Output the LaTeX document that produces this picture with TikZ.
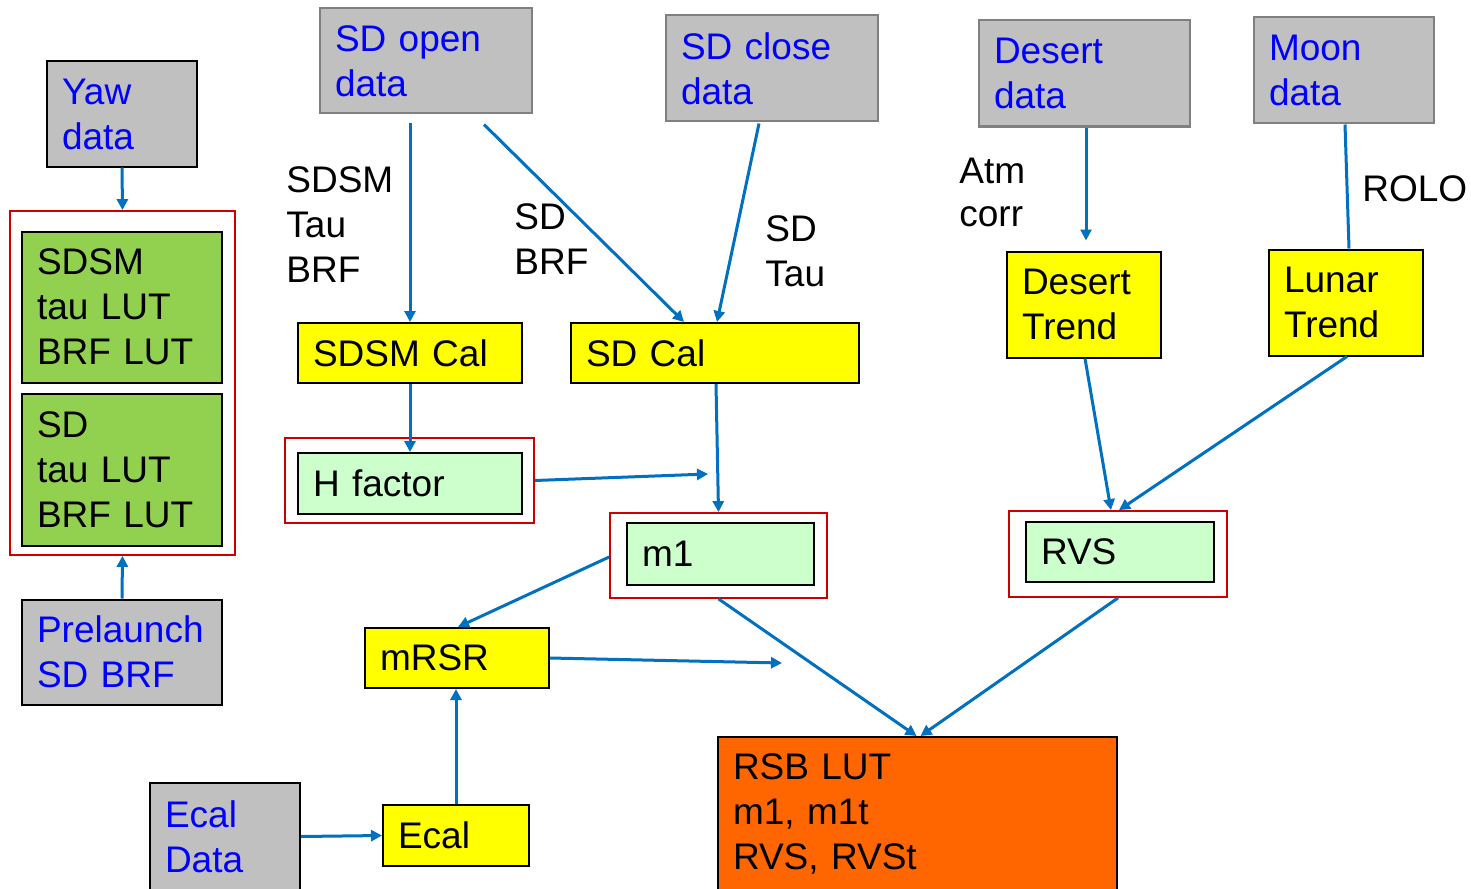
\documentclass[tikz,border=0pt]{standalone}
\usepackage{fontspec}
\setmainfont{Liberation Sans}
\usetikzlibrary{arrows.meta,calc}
\definecolor{boxgray}{HTML}{C0C0C0}
\definecolor{edgegray}{HTML}{808080}
\definecolor{txtblue}{HTML}{0000FF}
\definecolor{arrblue}{HTML}{0070C0}
\definecolor{redline}{HTML}{CC0000}
\definecolor{ylw}{HTML}{FFFF00}
\definecolor{lgreen}{HTML}{CCFFCC}
\definecolor{dgreen}{HTML}{92D050}
\definecolor{orng}{HTML}{FF6600}
\begin{document}
\begin{tikzpicture}[x=0.5pt,y=-0.5pt,
  font=\fontsize{18.5}{22.5}\selectfont,
  base/.style={rectangle,align=left,inner xsep=7.5pt,inner ysep=0pt,line width=1pt},
  databox/.style={base,fill=boxgray,draw=black,text=txtblue},
  databoxg/.style={base,fill=boxgray,draw=edgegray,text=txtblue},
  calbox/.style={base,fill=ylw,draw=black},
  resbox/.style={base,fill=lgreen,draw=black},
  lutbox/.style={base,fill=dgreen,draw=black},
  redframe/.style={rectangle,draw=redline,line width=0.9pt,inner sep=0pt},
  lbl/.style={anchor=west,align=left,inner sep=0pt},
  arr/.style={draw=arrblue,line width=1.5pt,-{Triangle[length=5.5pt,width=5.5pt]}},
  ln/.style={draw=arrblue,line width=1.5pt}]
\useasboundingbox (0,0) rectangle (1471,888);
% data boxes
\node[databox,minimum width=75pt,minimum height=52.5pt,text width=60pt] (yaw) at (122,114) {Yaw\\data};
\node[databox,minimum width=100pt,minimum height=52.5pt,text width=85pt] (pre) at (122,652) {Prelaunch\\SD BRF};
\node[databoxg,minimum width=106pt,minimum height=52.5pt,text width=91pt] (sdo) at (426,61) {SD open\\data};
\node[databoxg,minimum width=106pt,minimum height=53pt,text width=91pt] (sdc) at (772,68.5) {SD close\\data};
\node[databoxg,minimum width=105.5pt,minimum height=53pt,text width=90.5pt] (des) at (1084.5,73.5) {Desert\\data};
\node[databoxg,minimum width=90pt,minimum height=53pt,text width=75pt] (moon) at (1344,70.5) {Moon\\data};
\node[databox,minimum width=75pt,minimum height=54pt,text width=60pt] (ecald) at (225,836.5) {Ecal\\Data};
% LUT group
\node[redframe,minimum width=112.5pt,minimum height=172pt] (red1) at (122.5,383) {};
\node[lutbox,minimum width=100pt,minimum height=75.5pt,text width=85pt] (g1) at (122,307) {SDSM\\tau LUT\\BRF LUT};
\node[lutbox,minimum width=100pt,minimum height=76pt,text width=85pt] (g2) at (122,469.5) {SD\\tau LUT\\BRF LUT};
% cal boxes
\node[calbox,minimum width=112pt,minimum height=30pt,text width=97pt] (sdsmcal) at (410,353) {SDSM Cal};
\node[calbox,minimum width=144pt,minimum height=30pt,text width=129pt] (sdcal) at (715,353) {SD Cal};
\node[calbox,minimum width=77pt,minimum height=53pt,text width=62pt] (dtr) at (1084,304.5) {Desert\\Trend};
\node[calbox,minimum width=77pt,minimum height=53pt,text width=62pt] (ltr) at (1346,302.5) {Lunar\\Trend};
\node[calbox,minimum width=92pt,minimum height=30pt,text width=77pt] (mrsr) at (457,658) {mRSR};
\node[calbox,minimum width=73pt,minimum height=30.5pt,text width=58pt] (ecal) at (456,835.5) {Ecal};
% result boxes
\node[redframe,minimum width=124.5pt,minimum height=42.5pt] (hred) at (409.5,480.5) {};
\node[resbox,minimum width=112pt,minimum height=30.5pt,text width=97pt] (hf) at (410,483.5) {H factor};
\node[redframe,minimum width=108.5pt,minimum height=42.5pt] (m1red) at (718.5,555.5) {};
\node[resbox,minimum width=93.5pt,minimum height=31pt,text width=78.5pt] (m1) at (720.5,554) {m1};
\node[redframe,minimum width=109pt,minimum height=43pt] (rvsred) at (1118,554) {};
\node[resbox,minimum width=94pt,minimum height=30pt,text width=79pt] (rvs) at (1120,552) {RVS};
\node[base,fill=orng,draw=black,minimum width=199.5pt,minimum height=76.5pt,text width=184.5pt] (rsb) at (917.5,813.5) {RSB LUT\\m1, m1t\\RVS, RVSt};
% labels
\node[lbl] (l1) at (286,224.5) {SDSM\\Tau\\BRF};
\node[lbl] (l2) at (514,239.5) {SD\\BRF};
\node[lbl] (l3) at (765,251.5) {SD\\Tau};
\node[lbl,font=\fontsize{18.5}{21.5}\selectfont] (l4) at (959,192) {Atm\\corr};
\node[lbl] (l5) at (1362,188.5) {ROLO};
% free ends
\coordinate (hfend) at (708,474);
\coordinate (mend) at (782,663);
% connectors
\draw[arr] (yaw.south) -- (red1.north);
\draw[arr] (pre.north) -- (red1.south);
\draw[arr] ($(sdo.south)+(-16,9)$) -- (sdsmcal.north);
\draw[arr] ($(sdo.south)+(58,10)$) -- ($(sdcal.north)+(-31,0)$);
\draw[arr] ($(sdc.south)+(-13,1)$) -- ($(sdcal.north)+(2,0)$);
\draw[arr] ($(des.south)+(1.5,0)$) -- ($(dtr.north)+(2,-10)$);
\draw[ln] ($(moon.south)+(1,0)$) -- ($(ltr.north)+(3,0)$);
\draw[arr] (sdsmcal.south) -- (hf.north);
\draw[arr] (hred.east) -- (hfend);
\draw[arr] ($(sdcal.south)+(1,0)$) -- (m1red.north);
\draw[arr] ($(m1red.west)+(0,1.5)$) -- ($(mrsr.north)+(1,0)$);
\draw[arr] (mrsr.east) -- (mend);
\draw[arr] (m1red.south) -- ($(rsb.north)+(-1,0)$);
\draw[arr] (rvsred.south) -- ($(rsb.north)+(3,0)$);
\draw[arr] ($(dtr.south)+(1,0)$) -- ($(rvsred.north)+(-7,0)$);
\draw[arr] ($(ltr.south)+(1,0)$) -- ($(rvsred.north)+(1,0)$);
\draw[arr] (ecal.north) -- (ecal.north |- mrsr.south);
\draw[arr] (ecald.east) -- (ecal.west);
\end{tikzpicture}
\end{document}
